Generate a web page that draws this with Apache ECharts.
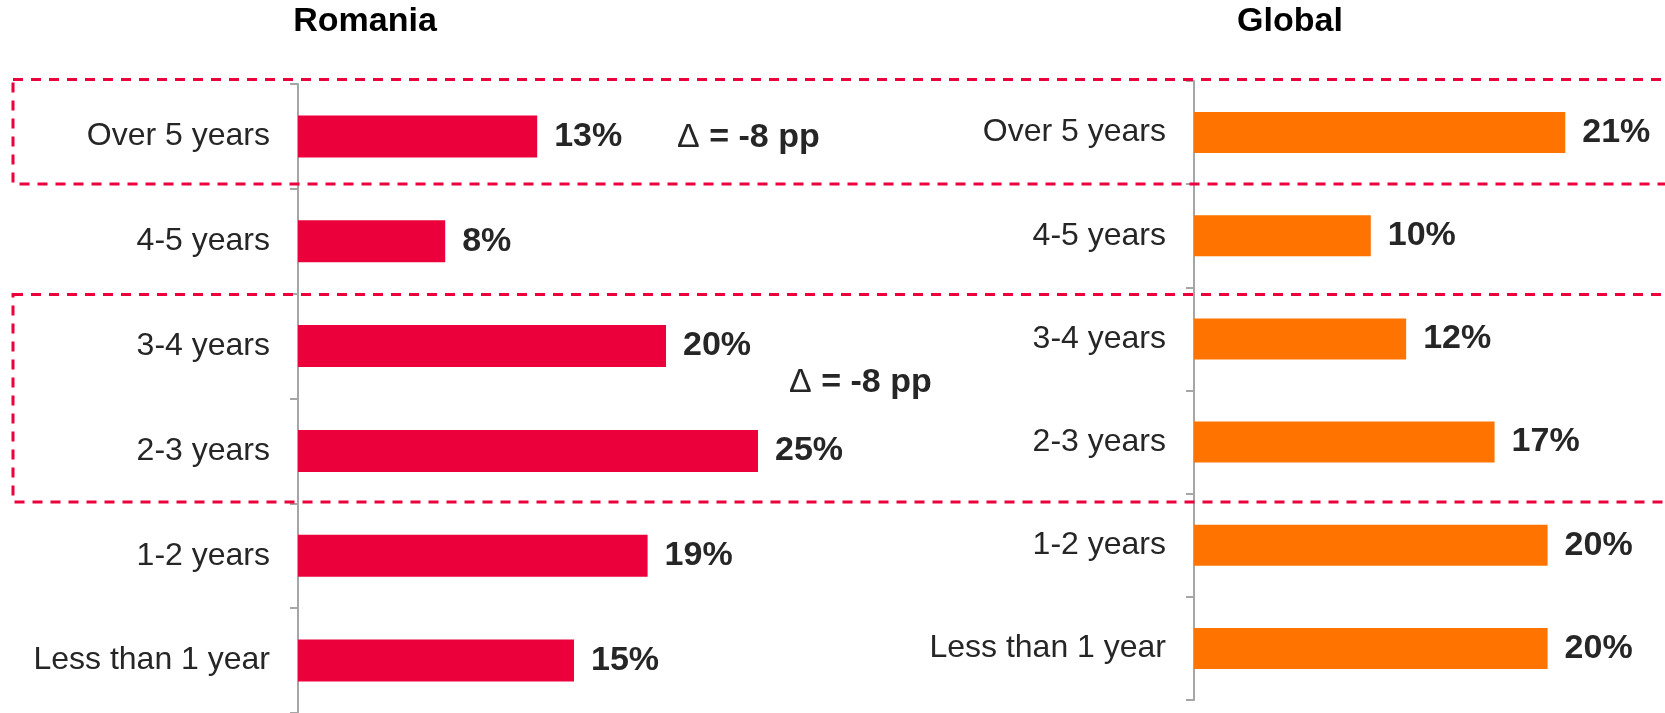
<!DOCTYPE html>
<html>
<head>
<meta charset="utf-8">
<script src="https://cdn.jsdelivr.net/npm/echarts@6/dist/echarts.min.js"></script>
<style>
html,body{margin:0;padding:0;background:#fff;}
#chart{width:1665px;height:713px;}
</style>
</head>
<body>
<div id="chart"></div>
<script>
const categories = ['Over 5 years', '4-5 years', '3-4 years', '2-3 years', '1-2 years', 'Less than 1 year'];
const romaniaValues = [13, 8, 20, 25, 19, 15];
const globalValues = [21, 10, 12, 17, 20, 20];
const panelTitles = ['Romania', 'Global'];
const deltaNotes = ['= -8 pp', '= -8 pp'];

const FONT = "'Liberation Sans', Arial, sans-serif";
const TXT = '#262626';
const RED = '#eb003b';
const ORANGE = '#ff7300';
const AXIS = '#a6a6a6';

const chart = echarts.init(document.getElementById('chart'), null, {renderer: 'canvas'});

function yAxisFor(gridIndex) {
  return {
    type: 'category', gridIndex, data: categories, inverse: true,
    axisLine: {show: true, lineStyle: {color: AXIS, width: 2}},
    axisTick: {show: true, length: 8, lineStyle: {color: AXIS, width: 2}},
    axisLabel: {margin: 28, fontSize: 32, color: TXT, fontFamily: FONT},
    splitLine: {show: false}
  };
}
function xAxisFor(gridIndex, max) {
  return {type: 'value', gridIndex, min: 0, max, show: false, splitLine: {show: false}};
}
function barSeries(idx, data, color, bw) {
  return {
    type: 'bar', xAxisIndex: idx, yAxisIndex: idx, data, barWidth: bw,
    itemStyle: {color},
    label: {show: true, position: 'right', distance: 17, formatter: '{c}%',
      fontSize: 34, fontWeight: 'bold', color: TXT, fontFamily: FONT},
    animation: false
  };
}

const dash = {stroke: RED, lineWidth: 3, lineDash: [10, 8], fill: null};
function deltaText(x, y, t) {
  return {type: 'text', x, y, z: 10,
    style: {text: '{d|\u0394} ' + t, align: 'left', verticalAlign: 'middle',
      font: 'bold 34px ' + FONT, fill: TXT,
      rich: {d: {fontFamily: FONT, fontSize: 34, fontWeight: 'normal', fill: TXT}}}};
}

chart.setOption({
  animation: false,
  grid: [
    {left: 298, top: 84, width: 552, height: 630},
    {left: 1194, top: 81, width: 442, height: 619}
  ],
  xAxis: [xAxisFor(0, 30), xAxisFor(1, 25)],
  yAxis: [yAxisFor(0), yAxisFor(1)],
  series: [
    barSeries(0, romaniaValues, RED, 42),
    barSeries(1, globalValues, ORANGE, 41)
  ],
  graphic: [
    {type: 'text', x: 365, y: 22, z: 10,
      style: {text: panelTitles[0], font: 'bold 34px ' + FONT, fill: '#000', align: 'center', verticalAlign: 'middle'}},
    {type: 'text', x: 1290, y: 22, z: 10,
      style: {text: panelTitles[1], font: 'bold 34px ' + FONT, fill: '#000', align: 'center', verticalAlign: 'middle'}},
    deltaText(677, 138, deltaNotes[0]),
    deltaText(789, 383, deltaNotes[1]),
    {type: 'rect', z: 20, shape: {x: 13, y: 79.5, width: 1720, height: 104.5}, style: dash, silent: true},
    {type: 'rect', z: 20, shape: {x: 13, y: 294.5, width: 1720, height: 207.5}, style: dash, silent: true}
  ]
});
</script>
</body>
</html>
